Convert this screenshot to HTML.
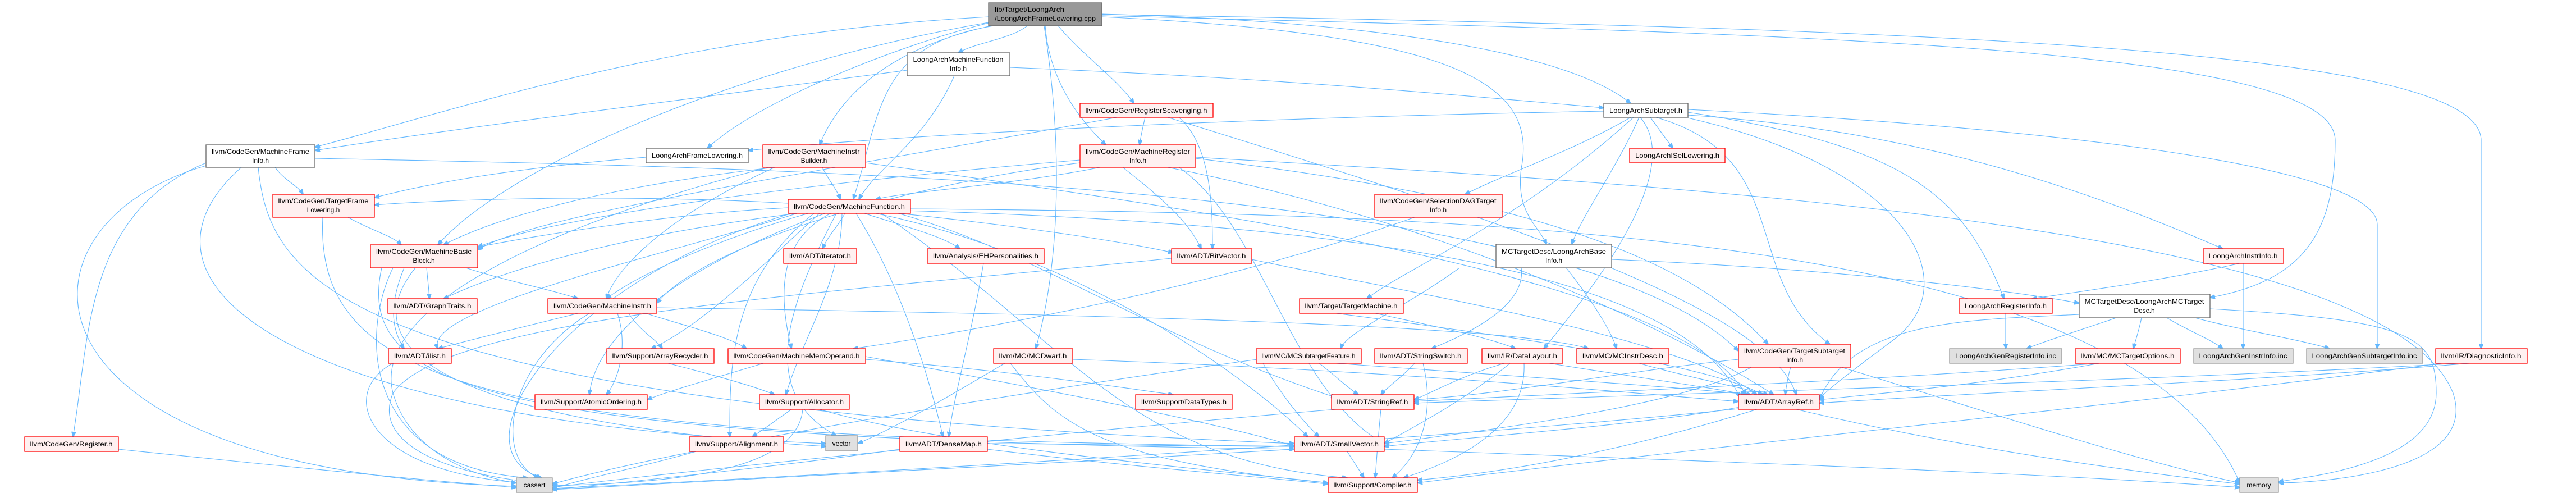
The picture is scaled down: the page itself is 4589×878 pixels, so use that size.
<!DOCTYPE html>
<html><head><meta charset="utf-8"><style>
html,body{margin:0;padding:0;background:#fff;}
svg{display:block;}
text{font-family:"Liberation Sans",sans-serif;font-size:12px;fill:#000;}
.e{fill:none;stroke:#63b8ff;stroke-width:1.1;marker-end:url(#a);}
.r{fill:#fff0f0;stroke:#ff0000;stroke-width:1.3;}
.w{fill:#fff;stroke:#666;stroke-width:1.3;}
.g{fill:#e0e0e0;stroke:#999;stroke-width:1.3;}
.m{fill:#999;stroke:#666;stroke-width:1.3;}
</style></head><body>
<svg width="4589" height="878" viewBox="0 0 4589 878" xmlns="http://www.w3.org/2000/svg">
<defs><marker id="a" markerWidth="10" markerHeight="8" refX="9" refY="4" orient="auto" markerUnits="userSpaceOnUse"><path d="M0,0 L10,4 L0,8 z" fill="#63b8ff" stroke="#63b8ff"/></marker></defs>
<g>
<path class="e" d="M1830 46 C1800 70,1740 75,1707 94"/>
<path class="e" d="M1761 30 C1200 60,800 200,561 262"/>
<path class="e" d="M1885 46 C1930 100,1990 140,2020 184"/>
<path class="e" d="M1765 40 C1600 80,1350 180,1260 264"/>
<path class="e" d="M1775 44 C1600 80,1500 160,1460 258"/>
<path class="e" d="M1862 46 C1870 150,1930 220,1970 258"/>
<path class="e" d="M1770 46 C1560 80,1570 200,1520 355"/>
<path class="e" d="M1860 46 C1900 300,1880 500,1845 621"/>
<path class="e" d="M1963 25 C2500 40,2800 100,2905 184"/>
<path class="e" d="M1963 30 C2600 60,2740 150,2710 300 C2700 380,2740 400,2755 435"/>
<path class="e" d="M1963 28 C3200 60,4160 80,4160 250 C4160 420,4100 500,3937 530"/>
<path class="e" d="M1963 26 C3500 50,4420 90,4420 250 L4420 621"/>
<path class="e" d="M1761 40 C1300 120,900 300,780 436"/>
<path class="e" d="M1700 135 C1650 250,1560 300,1530 355"/>
<path class="e" d="M1799 120 C2300 140,2600 170,2857 192"/>
<path class="e" d="M1616 125 C1200 180,800 230,561 268"/>
<path class="e" d="M490 298 C505 320,530 330,540 346"/>
<path class="e" d="M367 290 C150 380,160 600,130 778"/>
<path class="e" d="M367 295 C0 400,0 840,920 866"/>
<path class="e" d="M430 298 C200 500,500 750,1471 790"/>
<path class="e" d="M460 298 C480 500,600 720,2306 790"/>
<path class="e" d="M561 282 C1500 300,2800 330,3097 625"/>
<path class="e" d="M620 387 C660 410,700 420,715 436"/>
<path class="e" d="M575 387 C560 700,900 780,2306 795"/>
<path class="e" d="M1151 280 C900 300,750 330,667 352"/>
<path class="e" d="M1465 298 C1475 320,1490 335,1497 355"/>
<path class="e" d="M1380 298 C1100 330,900 380,790 436"/>
<path class="e" d="M1380 298 C1200 380,1100 470,1080 532"/>
<path class="e" d="M1370 298 C1200 340,650 500,700 700 C740 840,920 860,920 860"/>
<path class="e" d="M1542 290 C2200 380,3000 500,3110 703"/>
<path class="e" d="M2040 209 C2035 230,2032 245,2030 258"/>
<path class="e" d="M2100 209 C2160 260,2160 380,2160 443"/>
<path class="e" d="M1990 209 C1500 300,950 380,851 445"/>
<path class="e" d="M2080 209 C2700 400,3150 550,3200 703"/>
<path class="e" d="M1960 298 C1800 330,1620 340,1560 355"/>
<path class="e" d="M2000 298 C2080 360,2120 400,2140 443"/>
<path class="e" d="M1924 285 C1500 320,1000 380,851 440"/>
<path class="e" d="M1924 290 C1600 330,1250 440,1170 540"/>
<path class="e" d="M2080 298 C2600 400,3000 600,3160 703"/>
<path class="e" d="M2100 298 C2250 400,2300 700,2466 790"/>
<path class="e" d="M2130 280 C3000 330,4250 400,4370 700 C4420 850,4100 860,4059 860"/>
<path class="e" d="M2130 282 C2700 350,3000 450,3150 613"/>
<path class="e" d="M2940 209 C2955 230,2970 250,2980 264"/>
<path class="e" d="M2905 209 C2800 270,2680 310,2610 346"/>
<path class="e" d="M2910 209 C2700 400,2500 480,2435 532"/>
<path class="e" d="M2920 209 C2880 300,2820 380,2800 435"/>
<path class="e" d="M2922 209 C3000 300,2850 500,2750 621"/>
<path class="e" d="M2950 209 C3200 280,3100 500,3260 613"/>
<path class="e" d="M3007 200 C3400 260,3500 350,3570 532"/>
<path class="e" d="M3007 205 C3400 230,3700 330,3960 443"/>
<path class="e" d="M3007 195 C3700 230,4235 300,4235 400 L4235 621"/>
<path class="e" d="M2857 198 C2200 210,1600 240,1333 268"/>
<path class="e" d="M3007 210 C3400 300,3500 500,3380 600 C3300 660,3260 690,3241 710"/>
<path class="e" d="M1404 370 C1200 380,950 420,851 440"/>
<path class="e" d="M1505 380 C1495 400,1475 420,1465 443"/>
<path class="e" d="M1540 380 C1600 400,1680 420,1710 443"/>
<path class="e" d="M1600 380 C1800 400,2000 430,2090 450"/>
<path class="e" d="M1420 380 C1100 420,900 480,790 532"/>
<path class="e" d="M1440 380 C1300 420,1150 480,1080 532"/>
<path class="e" d="M1420 380 C1200 450,750 550,780 621"/>
<path class="e" d="M1460 380 C1350 480,1250 580,1160 621"/>
<path class="e" d="M1480 380 C1400 420,1380 500,1410 621"/>
<path class="e" d="M1525 380 C1600 500,1650 650,1680 778"/>
<path class="e" d="M1470 380 C1200 480,1060 600,1050 703"/>
<path class="e" d="M1500 380 C1500 500,1430 600,1400 703"/>
<path class="e" d="M1410 380 C1000 500,800 800,965 851"/>
<path class="e" d="M1490 380 C1400 550,1350 700,1490 776"/>
<path class="e" d="M1560 380 C1900 450,2200 650,2330 778"/>
<path class="e" d="M1600 380 C1850 450,2050 600,2380 708"/>
<path class="e" d="M1610 375 C2500 400,3000 500,3100 708"/>
<path class="e" d="M1570 380 C1900 600,2000 820,2400 851"/>
<path class="e" d="M1622 372 C2700 380,3800 420,3990 860"/>
<path class="e" d="M1450 380 C1300 500,1300 650,1300 778"/>
<path class="e" d="M1404 362 C1100 345,800 355,667 365"/>
<path class="e" d="M2520 387 C2200 500,1800 580,1520 621"/>
<path class="e" d="M760 477 C762 500,764 515,765 532"/>
<path class="e" d="M720 477 C690 550,700 590,720 621"/>
<path class="e" d="M830 477 C900 500,980 515,1030 532"/>
<path class="e" d="M700 477 C640 600,650 830,940 851"/>
<path class="e" d="M740 477 C600 650,900 760,1471 795"/>
<path class="e" d="M680 477 C630 700,900 780,2306 800"/>
<path class="e" d="M1752 469 C1730 600,1700 700,1690 778"/>
<path class="e" d="M2087 460 C1500 520,800 560,700 700 C650 820,900 860,984 860"/>
<path class="e" d="M2230 462 C2500 520,3000 600,3130 703"/>
<path class="e" d="M2600 477 C2500 550,2400 590,2388 621"/>
<path class="e" d="M2710 477 C2720 550,2600 600,2550 621"/>
<path class="e" d="M2790 477 C2840 540,2870 590,2880 621"/>
<path class="e" d="M2871 462 C3300 480,3600 520,3704 540"/>
<path class="e" d="M2450 558 C2550 580,2650 600,2700 621"/>
<path class="e" d="M2380 558 C2700 600,3050 650,3140 703"/>
<path class="e" d="M3990 469 C3850 500,3700 520,3620 532"/>
<path class="e" d="M3996 469 L3996 621"/>
<path class="e" d="M3573 558 L3573 621"/>
<path class="e" d="M3770 566 C3700 590,3650 605,3610 621"/>
<path class="e" d="M3815 566 C3810 590,3805 605,3800 621"/>
<path class="e" d="M3860 566 C3900 590,3940 605,3960 621"/>
<path class="e" d="M3910 566 C4000 590,4100 605,4150 621"/>
<path class="e" d="M3937 550 C4300 570,4340 600,4340 700 C4340 830,4100 850,4059 858"/>
<path class="e" d="M3704 560 C3500 570,3300 570,3241 712"/>
<path class="e" d="M1030 558 C900 590,820 610,780 621"/>
<path class="e" d="M1120 558 C1140 590,1170 605,1180 621"/>
<path class="e" d="M1150 558 C1220 580,1300 600,1330 621"/>
<path class="e" d="M1100 558 C1120 620,1100 680,1080 703"/>
<path class="e" d="M1170 548 C2000 560,2700 580,2830 621"/>
<path class="e" d="M1050 558 C900 650,880 820,960 851"/>
<path class="e" d="M700 647 C600 700,650 840,930 860"/>
<path class="e" d="M1190 647 C1280 670,1350 690,1380 703"/>
<path class="e" d="M1542 640 C1800 660,2000 690,2090 703"/>
<path class="e" d="M1360 647 C1250 680,1180 700,1153 712"/>
<path class="e" d="M1542 635 C1900 700,2200 760,2306 795"/>
<path class="e" d="M1790 647 C1700 700,1600 760,1528 790"/>
<path class="e" d="M1911 640 C2500 660,2900 700,3097 715"/>
<path class="e" d="M1800 647 C1880 750,1950 820,2366 860"/>
<path class="e" d="M1410 729 C1380 750,1360 765,1340 778"/>
<path class="e" d="M1430 729 C1420 840,1200 860,984 865"/>
<path class="e" d="M1460 729 C1700 800,2200 840,2366 860"/>
<path class="e" d="M2350 647 C2380 670,2400 690,2420 703"/>
<path class="e" d="M2380 647 C2700 670,3000 690,3120 703"/>
<path class="e" d="M2250 647 C2280 700,2320 750,2350 778"/>
<path class="e" d="M2240 640 C1800 700,1200 800,984 862"/>
<path class="e" d="M2520 647 C2500 670,2470 690,2460 703"/>
<path class="e" d="M2535 647 C2560 750,2520 820,2480 851"/>
<path class="e" d="M2680 647 C2600 670,2550 700,2519 712"/>
<path class="e" d="M2690 647 C2600 720,2500 770,2466 790"/>
<path class="e" d="M2715 647 C2720 760,2600 820,2500 851"/>
<path class="e" d="M2760 647 C2900 670,3050 690,3110 703"/>
<path class="e" d="M2920 647 C3000 670,3100 690,3150 703"/>
<path class="e" d="M3190 654 C3185 670,3182 690,3180 703"/>
<path class="e" d="M3097 640 C2900 660,2700 700,2519 712"/>
<path class="e" d="M3120 654 C3000 720,2700 760,2466 790"/>
<path class="e" d="M3280 654 C3500 720,3800 820,3990 860"/>
<path class="e" d="M3740 647 C3300 680,2800 700,2519 715"/>
<path class="e" d="M3740 647 C3500 690,3350 700,3241 712"/>
<path class="e" d="M4380 647 C3800 680,3000 700,2519 718"/>
<path class="e" d="M4400 647 C4000 680,3500 700,3241 718"/>
<path class="e" d="M4350 647 C3800 720,3000 800,2525 860"/>
<path class="e" d="M2460 729 C2455 780,2452 820,2450 851"/>
<path class="e" d="M2380 729 C2000 760,1200 840,984 868"/>
<path class="e" d="M3100 725 C2900 760,2600 780,2466 795"/>
<path class="e" d="M3130 729 C2900 800,2700 840,2525 855"/>
<path class="e" d="M3200 729 C3500 800,3800 840,3990 862"/>
<path class="e" d="M3097 728 C2600 780,1600 840,984 870"/>
<path class="e" d="M2400 804 C2410 820,2420 835,2430 851"/>
<path class="e" d="M2306 800 C1800 830,1200 860,984 872"/>
<path class="e" d="M2466 800 C3000 820,3600 840,3990 868"/>
<path class="e" d="M211 800 C500 830,800 860,920 868"/>
<path class="e" d="M1240 804 C1150 830,1050 850,984 870"/>
<path class="e" d="M1603 800 C1400 830,1100 860,984 872"/>
<path class="e" d="M1759 800 C2000 830,2200 845,2366 862"/>
<path class="e" d="M1759 790 C1900 790,2100 795,2306 795"/>
</g>
<g>
<rect class="m" x="1761" y="5" width="202" height="41"/>
<text x="1772" y="21" textLength="124" lengthAdjust="spacingAndGlyphs">lib/Target/LoongArch</text>
<text x="1772" y="37" textLength="180" lengthAdjust="spacingAndGlyphs">/LoongArchFrameLowering.cpp</text>

<rect class="w" x="1616" y="94" width="183" height="41"/>
<text x="1707" y="110" text-anchor="middle" textLength="161" lengthAdjust="spacingAndGlyphs">LoongArchMachineFunction</text>
<text x="1707" y="126" text-anchor="middle">Info.h</text>

<rect class="w" x="367" y="258" width="194" height="40"/>
<text x="464" y="274" text-anchor="middle" textLength="174" lengthAdjust="spacingAndGlyphs">llvm/CodeGen/MachineFrame</text>
<text x="464" y="290" text-anchor="middle">Info.h</text>

<rect class="w" x="1151" y="264" width="182" height="26"/>
<text x="1242" y="281" text-anchor="middle" textLength="162" lengthAdjust="spacingAndGlyphs">LoongArchFrameLowering.h</text>

<rect class="r" x="1359" y="258" width="183" height="40"/>
<text x="1450" y="274" text-anchor="middle" textLength="163" lengthAdjust="spacingAndGlyphs">llvm/CodeGen/MachineInstr</text>
<text x="1450" y="290" text-anchor="middle">Builder.h</text>

<rect class="r" x="1924" y="184" width="237" height="25"/>
<text x="2042" y="201" text-anchor="middle" textLength="217" lengthAdjust="spacingAndGlyphs">llvm/CodeGen/RegisterScavenging.h</text>

<rect class="r" x="1924" y="258" width="206" height="40"/>
<text x="2027" y="274" text-anchor="middle" textLength="186" lengthAdjust="spacingAndGlyphs">llvm/CodeGen/MachineRegister</text>
<text x="2027" y="290" text-anchor="middle">Info.h</text>

<rect class="w" x="2857" y="184" width="150" height="25"/>
<text x="2932" y="201" text-anchor="middle" textLength="130" lengthAdjust="spacingAndGlyphs">LoongArchSubtarget.h</text>

<rect class="r" x="2903" y="264" width="170" height="26"/>
<text x="2988" y="281" text-anchor="middle" textLength="150" lengthAdjust="spacingAndGlyphs">LoongArchISelLowering.h</text>

<rect class="r" x="486" y="346" width="181" height="41"/>
<text x="576" y="362" text-anchor="middle" textLength="161" lengthAdjust="spacingAndGlyphs">llvm/CodeGen/TargetFrame</text>
<text x="576" y="378" text-anchor="middle">Lowering.h</text>

<rect class="r" x="1404" y="355" width="218" height="25"/>
<text x="1513" y="372" text-anchor="middle" textLength="198" lengthAdjust="spacingAndGlyphs">llvm/CodeGen/MachineFunction.h</text>

<rect class="r" x="2449" y="346" width="227" height="41"/>
<text x="2562" y="362" text-anchor="middle" textLength="207" lengthAdjust="spacingAndGlyphs">llvm/CodeGen/SelectionDAGTarget</text>
<text x="2562" y="378" text-anchor="middle">Info.h</text>

<rect class="r" x="660" y="436" width="191" height="41"/>
<text x="755" y="452" text-anchor="middle" textLength="170" lengthAdjust="spacingAndGlyphs">llvm/CodeGen/MachineBasic</text>
<text x="755" y="468" text-anchor="middle">Block.h</text>

<rect class="r" x="1396" y="443" width="130" height="26"/>
<text x="1461" y="460" text-anchor="middle" textLength="110" lengthAdjust="spacingAndGlyphs">llvm/ADT/iterator.h</text>

<rect class="r" x="1652" y="443" width="208" height="26"/>
<text x="1756" y="460" text-anchor="middle" textLength="188" lengthAdjust="spacingAndGlyphs">llvm/Analysis/EHPersonalities.h</text>

<rect class="r" x="2087" y="443" width="143" height="26"/>
<text x="2158" y="460" text-anchor="middle" textLength="123" lengthAdjust="spacingAndGlyphs">llvm/ADT/BitVector.h</text>

<rect class="w" x="2665" y="435" width="206" height="42"/>
<text x="2768" y="452" text-anchor="middle" textLength="186" lengthAdjust="spacingAndGlyphs">MCTargetDesc/LoongArchBase</text>
<text x="2768" y="468" text-anchor="middle">Info.h</text>

<rect class="r" x="3925" y="443" width="143" height="26"/>
<text x="3996" y="460" text-anchor="middle" textLength="123" lengthAdjust="spacingAndGlyphs">LoongArchInstrInfo.h</text>

<rect class="r" x="691" y="532" width="159" height="26"/>
<text x="770" y="549" text-anchor="middle" textLength="139" lengthAdjust="spacingAndGlyphs">llvm/ADT/GraphTraits.h</text>

<rect class="r" x="976" y="532" width="194" height="26"/>
<text x="1073" y="549" text-anchor="middle" textLength="174" lengthAdjust="spacingAndGlyphs">llvm/CodeGen/MachineInstr.h</text>

<rect class="r" x="2315" y="532" width="185" height="26"/>
<text x="2407" y="549" text-anchor="middle" textLength="165" lengthAdjust="spacingAndGlyphs">llvm/Target/TargetMachine.h</text>

<rect class="r" x="3490" y="532" width="166" height="26"/>
<text x="3573" y="549" text-anchor="middle" textLength="146" lengthAdjust="spacingAndGlyphs">LoongArchRegisterInfo.h</text>

<rect class="w" x="3704" y="524" width="233" height="42"/>
<text x="3820" y="541" text-anchor="middle" textLength="213" lengthAdjust="spacingAndGlyphs">MCTargetDesc/LoongArchMCTarget</text>
<text x="3820" y="557" text-anchor="middle">Desc.h</text>

<rect class="r" x="692" y="621" width="112" height="26"/>
<text x="748" y="638" text-anchor="middle" textLength="92" lengthAdjust="spacingAndGlyphs">llvm/ADT/ilist.h</text>

<rect class="r" x="1081" y="621" width="191" height="26"/>
<text x="1176" y="638" text-anchor="middle" textLength="171" lengthAdjust="spacingAndGlyphs">llvm/Support/ArrayRecycler.h</text>

<rect class="r" x="1297" y="621" width="245" height="26"/>
<text x="1419" y="638" text-anchor="middle" textLength="225" lengthAdjust="spacingAndGlyphs">llvm/CodeGen/MachineMemOperand.h</text>

<rect class="r" x="1770" y="621" width="141" height="26"/>
<text x="1840" y="638" text-anchor="middle" textLength="121" lengthAdjust="spacingAndGlyphs">llvm/MC/MCDwarf.h</text>

<rect class="r" x="2238" y="621" width="187" height="26"/>
<text x="2331" y="638" text-anchor="middle" textLength="167" lengthAdjust="spacingAndGlyphs">llvm/MC/MCSubtargetFeature.h</text>

<rect class="r" x="2449" y="621" width="165" height="26"/>
<text x="2531" y="638" text-anchor="middle" textLength="145" lengthAdjust="spacingAndGlyphs">llvm/ADT/StringSwitch.h</text>

<rect class="r" x="2640" y="621" width="144" height="26"/>
<text x="2712" y="638" text-anchor="middle" textLength="124" lengthAdjust="spacingAndGlyphs">llvm/IR/DataLayout.h</text>

<rect class="r" x="2809" y="621" width="164" height="26"/>
<text x="2891" y="638" text-anchor="middle" textLength="144" lengthAdjust="spacingAndGlyphs">llvm/MC/MCInstrDesc.h</text>

<rect class="r" x="3097" y="613" width="200" height="41"/>
<text x="3197" y="629" text-anchor="middle" textLength="180" lengthAdjust="spacingAndGlyphs">llvm/CodeGen/TargetSubtarget</text>
<text x="3197" y="645" text-anchor="middle">Info.h</text>

<rect class="g" x="3473" y="621" width="200" height="26"/>
<text x="3573" y="638" text-anchor="middle" textLength="180" lengthAdjust="spacingAndGlyphs">LoongArchGenRegisterInfo.inc</text>

<rect class="r" x="3697" y="621" width="187" height="26"/>
<text x="3790" y="638" text-anchor="middle" textLength="167" lengthAdjust="spacingAndGlyphs">llvm/MC/MCTargetOptions.h</text>

<rect class="g" x="3908" y="621" width="177" height="26"/>
<text x="3996" y="638" text-anchor="middle" textLength="157" lengthAdjust="spacingAndGlyphs">LoongArchGenInstrInfo.inc</text>

<rect class="g" x="4109" y="621" width="207" height="26"/>
<text x="4212" y="638" text-anchor="middle" textLength="187" lengthAdjust="spacingAndGlyphs">LoongArchGenSubtargetInfo.inc</text>

<rect class="r" x="4339" y="621" width="163" height="26"/>
<text x="4420" y="638" text-anchor="middle" textLength="143" lengthAdjust="spacingAndGlyphs">llvm/IR/DiagnosticInfo.h</text>

<rect class="r" x="953" y="703" width="200" height="26"/>
<text x="1053" y="720" text-anchor="middle" textLength="180" lengthAdjust="spacingAndGlyphs">llvm/Support/AtomicOrdering.h</text>

<rect class="r" x="1353" y="703" width="160" height="26"/>
<text x="1433" y="720" text-anchor="middle" textLength="140" lengthAdjust="spacingAndGlyphs">llvm/Support/Allocator.h</text>

<rect class="r" x="2023" y="703" width="172" height="26"/>
<text x="2109" y="720" text-anchor="middle" textLength="152" lengthAdjust="spacingAndGlyphs">llvm/Support/DataTypes.h</text>

<rect class="r" x="2372" y="703" width="147" height="26"/>
<text x="2445" y="720" text-anchor="middle" textLength="127" lengthAdjust="spacingAndGlyphs">llvm/ADT/StringRef.h</text>

<rect class="r" x="3097" y="703" width="144" height="26"/>
<text x="3169" y="720" text-anchor="middle" textLength="124" lengthAdjust="spacingAndGlyphs">llvm/ADT/ArrayRef.h</text>

<rect class="r" x="44" y="778" width="167" height="26"/>
<text x="127" y="795" text-anchor="middle" textLength="147" lengthAdjust="spacingAndGlyphs">llvm/CodeGen/Register.h</text>

<rect class="r" x="1228" y="778" width="168" height="26"/>
<text x="1312" y="795" text-anchor="middle" textLength="148" lengthAdjust="spacingAndGlyphs">llvm/Support/Alignment.h</text>

<rect class="g" x="1471" y="776" width="57" height="27"/>
<text x="1499" y="794" text-anchor="middle">vector</text>

<rect class="r" x="1603" y="778" width="156" height="26"/>
<text x="1681" y="795" text-anchor="middle" textLength="136" lengthAdjust="spacingAndGlyphs">llvm/ADT/DenseMap.h</text>

<rect class="r" x="2306" y="778" width="160" height="26"/>
<text x="2386" y="795" text-anchor="middle" textLength="140" lengthAdjust="spacingAndGlyphs">llvm/ADT/SmallVector.h</text>

<rect class="g" x="920" y="851" width="64" height="26"/>
<text x="952" y="868" text-anchor="middle">cassert</text>

<rect class="r" x="2366" y="851" width="159" height="26"/>
<text x="2445" y="868" text-anchor="middle" textLength="139" lengthAdjust="spacingAndGlyphs">llvm/Support/Compiler.h</text>

<rect class="g" x="3990" y="851" width="69" height="26"/>
<text x="4024" y="868" text-anchor="middle">memory</text>
</g>
</svg>
</body></html>
